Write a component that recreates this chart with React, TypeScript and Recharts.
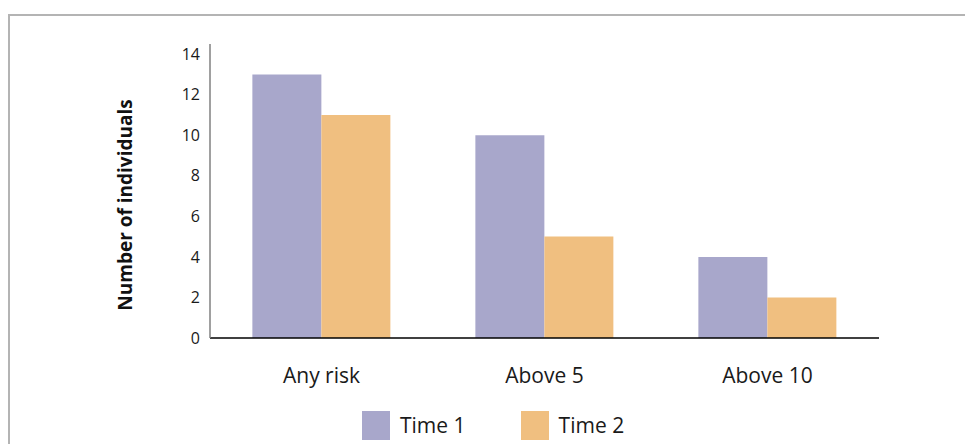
import React from 'react';
import { BarChart, Bar, XAxis, YAxis } from 'recharts';

const categories = ['Any risk', 'Above 5', 'Above 10'];
const time1 = [13, 10, 4];
const time2 = [11, 5, 2];
const yTicks = [0, 2, 4, 6, 8, 10, 12, 14];

const series = [
  { key: 'time1', name: 'Time 1', color: '#a8a7cb' },
  { key: 'time2', name: 'Time 2', color: '#f0bf80' },
];

const FONT = '"Open Sans", sans-serif';

const YLabel = (props: any) => {
  const { viewBox } = props;
  const cx = viewBox.x + 125;
  const cy = viewBox.y + viewBox.height / 2 + 14;
  return (
    <text
      x={cx}
      y={cy}
      transform={`rotate(-90, ${cx}, ${cy})`}
      textAnchor="middle"
      dominantBaseline="central"
      fontFamily={FONT}
      fontWeight={700}
      fontSize={19}
      fill="#111"
    >
      Number of individuals
    </text>
  );
};

export default function App() {
  const data = categories.map((name, i) => ({
    name,
    time1: time1[i],
    time2: time2[i],
  }));

  return (
    <div style={{ position: 'relative', width: 973, height: 444, margin: '-8px 0 0 -8px', background: '#fff', fontFamily: FONT }}>
      {/* frame: only top and left edges are visible */}
      <div
        style={{
          position: 'absolute',
          left: 8,
          top: 14,
          right: -10,
          bottom: -10,
          borderTop: '2px solid #b4b4b4',
          borderLeft: '2px solid #b4b4b4',
        }}
      />
      <div style={{ position: 'absolute', left: 0, top: 0 }}>
        <BarChart
          width={973}
          height={444}
          data={data}
          margin={{ top: 44, right: 94, left: 0, bottom: 0 }}
          barCategoryGap="19%"
          barGap={0}
        >
          <XAxis
            dataKey="name"
            height={106}
            axisLine={{ stroke: '#000', strokeWidth: 1.5 }}
            tickLine={false}
            tickSize={0}
            tickMargin={30}
            tick={{ fontSize: 21, fill: '#1a1a1a', fontFamily: FONT }}
          />
          <YAxis
            width={210}
            domain={[0, 14.5]}
            ticks={yTicks}
            interval={0}
            axisLine={{ stroke: '#808080', strokeWidth: 1.5 }}
            tickLine={false}
            tickSize={0}
            tickMargin={10}
            tick={{ fontSize: 16, fill: '#1a1a1a', fontFamily: FONT }}
            label={<YLabel />}
          />
          {series.map((s) => (
            <Bar key={s.key} dataKey={s.key} name={s.name} fill={s.color} isAnimationActive={false} />
          ))}
        </BarChart>
      </div>
      {/* legend */}
      <div
        style={{
          position: 'absolute',
          top: 411,
          left: 362,
          display: 'flex',
          alignItems: 'center',
          height: 29,
        }}
      >
        {series.map((s, i) => (
          <div key={s.key} style={{ display: 'flex', alignItems: 'center', marginRight: i === 0 ? 55 : 0 }}>
            <div style={{ width: 28, height: 29, background: s.color, marginRight: 10 }} />
            <span style={{ fontSize: 21, color: '#1a1a1a', lineHeight: '29px' }}>{s.name}</span>
          </div>
        ))}
      </div>
    </div>
  );
}
